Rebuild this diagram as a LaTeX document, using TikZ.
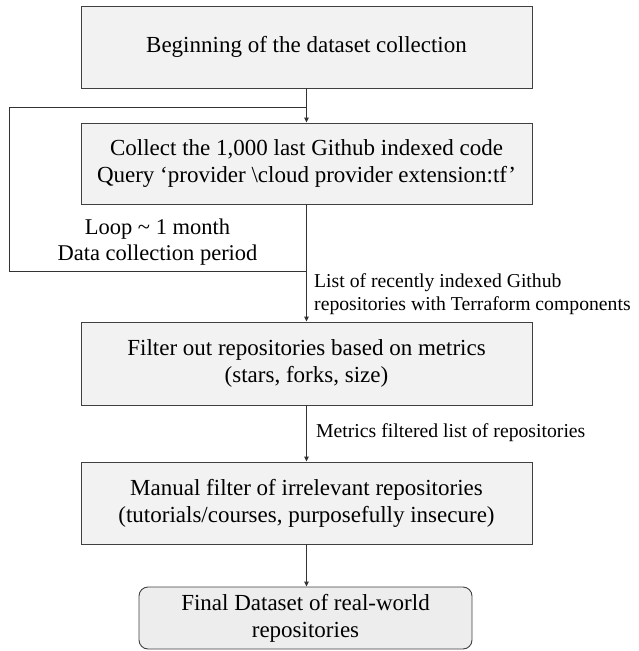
\documentclass[tikz,border=0pt]{standalone}
\usepackage{fontspec}
\setmainfont{Liberation Serif}
\usetikzlibrary{arrows.meta}
\begin{document}
\begin{tikzpicture}[x=1pt,y=-1pt,
  box/.style={draw=black!75, fill=black!5, line width=0.9pt, minimum width=451pt, align=center, inner sep=0pt,
    font=\fontsize{23}{27}\selectfont},
  final/.style={box, fill=black!7, rounded corners=9pt, minimum width=333pt, minimum height=62pt},
  conn/.style={draw=black!80, line width=0.9pt},
  arr/.style={conn, -{Triangle[width=4.5pt,length=5pt]}},
  lbl/.style={align=left, inner sep=0pt, font=\fontsize{19.7}{23}\selectfont},
  looplbl/.style={align=center, inner sep=0pt, font=\fontsize{22.5}{26}\selectfont}]
\useasboundingbox (0,0) rectangle (638,651);
\node[box, minimum height=82pt] (b1) at (306.5,47) {Beginning of the dataset collection};
\node[box, minimum height=81pt] (b2) at (306.5,163.5) {Collect the 1,000 last Github indexed code\\Query ‘provider \textbackslash cloud provider extension:tf’};
\node[box, minimum height=83pt] (b3) at (306.5,363.5) {Filter out repositories based on metrics\\(stars, forks, size)};
\node[box, minimum height=82pt] (b4) at (306.5,503) {Manual filter of irrelevant repositories\\(tutorials/courses, purposefully insecure)};
\node[final] (b5) at (305.5,618) {Final Dataset of real-world\\repositories};
\coordinate (ltop) at (306.5,107);
\coordinate (lbot) at (306.5,271);
\coordinate (lbl) at (9,271);
\coordinate (ltl) at (9,107);
\draw[arr] (b1.south) -- (b2.north);
\draw[arr] (b2.south) -- (b3.north);
\draw[arr] (b3.south) -- (b4.north);
\draw[arr] (b4.south) -- (b5.north -| b4.south);
\draw[conn] (lbot) -- (lbl) -- (ltl) -- (ltop);
\node[looplbl] (loopt) at (157.5,242) {Loop {\char"007E} 1 month\\Data collection period};
\node[lbl, anchor=west] (l1) at (314,294) {List of recently indexed Github\\repositories with Terraform components};
\node[lbl, anchor=west] (l2) at (316,433) {Metrics filtered list of repositories};
\end{tikzpicture}
\end{document}
